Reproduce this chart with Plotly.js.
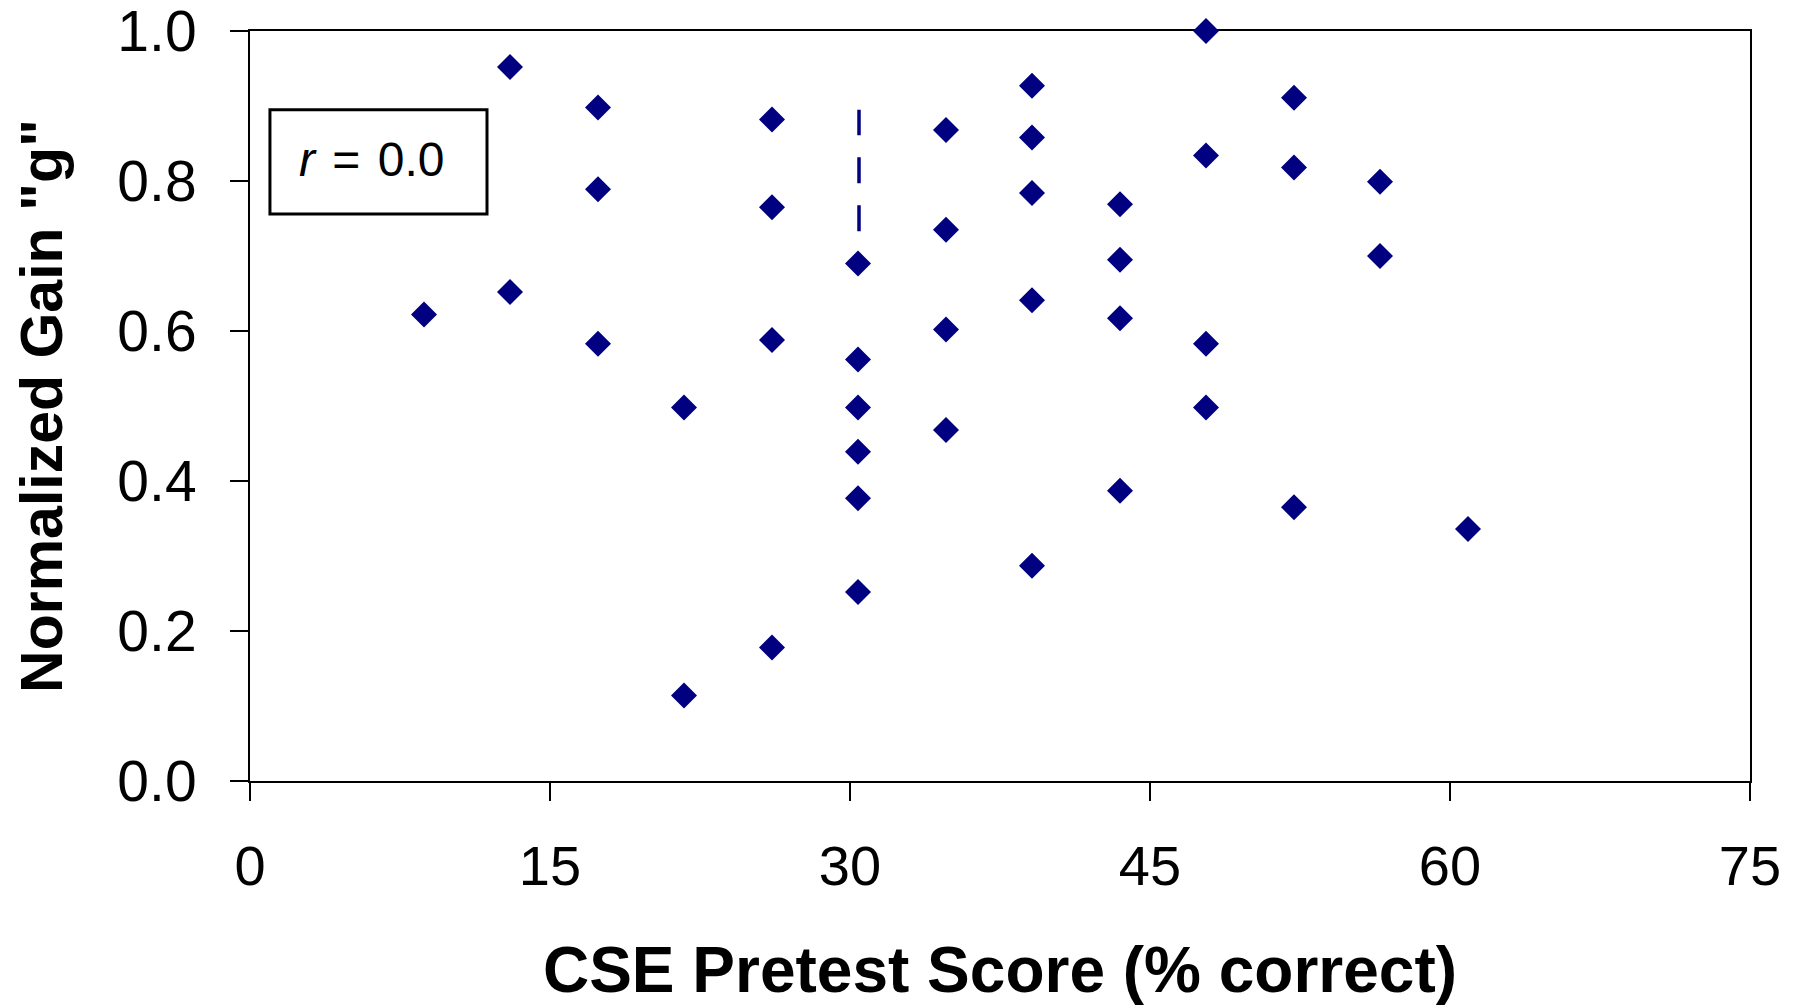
<!DOCTYPE html>
<html>
<head>
<meta charset="utf-8">
<script src="https://cdn.plot.ly/plotly-3.0.1.min.js"></script>
<style>
  html, body { margin: 0; padding: 0; background: #ffffff; }
  #chart { width: 1804px; height: 1006px; }
</style>
</head>
<body>
<div id="chart"></div>
<script>
// CSE pretest score (% correct) for each student
const pretestScore = [
  8.7,
  13.0, 13.0,
  17.4, 17.4, 17.4,
  21.7, 21.7,
  26.1, 26.1, 26.1, 26.1,
  30.4, 30.4, 30.4, 30.4, 30.4, 30.4,
  34.8, 34.8, 34.8, 34.8,
  39.1, 39.1, 39.1, 39.1, 39.1,
  43.5, 43.5, 43.5, 43.5,
  47.8, 47.8, 47.8, 47.8,
  52.2, 52.2, 52.2,
  56.5, 56.5,
  60.9
];
// Normalized gain "g" for each student
const normalizedGain = [
  0.622,
  0.952, 0.652,
  0.898, 0.789, 0.583,
  0.498, 0.114,
  0.882, 0.765, 0.588, 0.178,
  0.690, 0.562, 0.498, 0.439, 0.377, 0.252,
  0.868, 0.735, 0.602, 0.468,
  0.927, 0.858, 0.784, 0.641, 0.287,
  0.769, 0.695, 0.617, 0.387,
  1.000, 0.834, 0.583, 0.498,
  0.911, 0.818, 0.365,
  0.799, 0.700,
  0.336
];
// Dashed marker line (mean pretest score)
const meanLineX = [30.45, 30.45];
const meanLineY = [0.733, 0.895];

const xTickVals = [0, 15, 30, 45, 60, 75];
const yTickVals = [0.0, 0.2, 0.4, 0.6, 0.8, 1.0];
const rText = '<i>r</i>\u200a = \u200a0.0';

const navy = '#000080';
const font = 'Liberation Sans, Arial, sans-serif';

const traces = [
  {
    x: meanLineX, y: meanLineY, type: 'scatter', mode: 'lines',
    line: { color: navy, width: 3.5, dash: '26px,22px' },
    hoverinfo: 'skip', showlegend: false, cliponaxis: false
  },
  {
    x: pretestScore, y: normalizedGain, type: 'scatter', mode: 'markers',
    marker: { symbol: 'diamond', size: 20, color: navy, line: { width: 0 } },
    showlegend: false, cliponaxis: false
  }
];

const layout = {
  width: 1804, height: 1006,
  margin: { l: 250, r: 54, t: 31, b: 225 },
  paper_bgcolor: '#ffffff', plot_bgcolor: '#ffffff',
  font: { family: font, color: '#000000' },
  xaxis: {
    range: [0, 75], tickvals: xTickVals, ticktext: xTickVals.map(String),
    showgrid: false, zeroline: false,
    showline: true, linecolor: '#000', linewidth: 2, mirror: true,
    ticks: 'outside', ticklen: 18, tickwidth: 2, tickcolor: '#000',
    tickfont: { family: font, size: 56, color: '#000' },
    ticklabelstandoff: 17, ticklabeloverflow: 'allow',
    layer: 'below traces',
    title: { text: 'CSE Pretest Score (% correct)', font: { family: font, size: 64, color: '#000', weight: 'bold' }, standoff: 53 },
    automargin: false
  },
  yaxis: {
    range: [0, 1], tickvals: yTickVals, ticktext: yTickVals.map(v => v.toFixed(1)),
    showgrid: false, zeroline: false,
    showline: true, linecolor: '#000', linewidth: 2, mirror: true,
    ticks: 'outside', ticklen: 18, tickwidth: 2, tickcolor: '#000',
    tickfont: { family: font, size: 57, color: '#000' },
    ticklabelstandoff: 22, ticklabeloverflow: 'allow',
    layer: 'below traces',
    title: { text: 'Normalized Gain "g"', font: { family: font, size: 59, color: '#000', weight: 'bold' }, standoff: 36 },
    automargin: false
  },
  shapes: [
    {
      type: 'rect', xref: 'paper', yref: 'paper',
      x0: 0.0133, x1: 0.158, y0: 0.756, y1: 0.895,
      line: { color: '#000', width: 3 }, fillcolor: 'rgba(0,0,0,0)'
    }
  ],
  annotations: [
    {
      xref: 'paper', yref: 'paper', x: 0.081, y: 0.829,
      xanchor: 'center', yanchor: 'middle', showarrow: false,
      text: rText, font: { family: font, size: 48, color: '#000' }
    }
  ]
};

Plotly.newPlot('chart', traces, layout, { staticPlot: true, displayModeBar: false });
</script>
</body>
</html>
